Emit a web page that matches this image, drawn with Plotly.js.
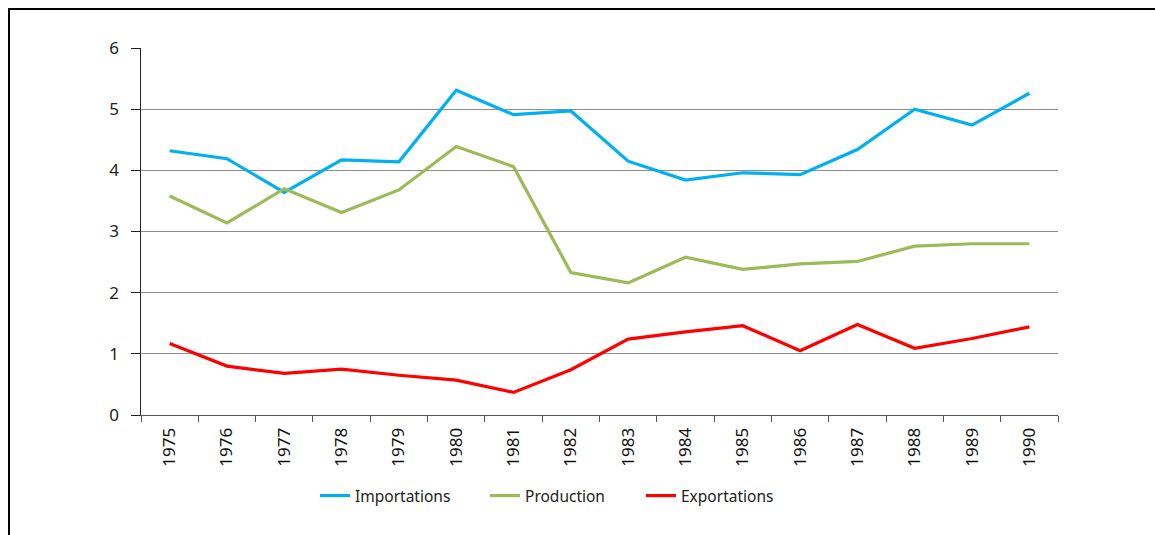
<!DOCTYPE html>
<html>
<head>
<meta charset="utf-8">
<script src="https://cdn.plot.ly/plotly-3.0.1.min.js"></script>
<style>
html,body{margin:0;padding:0;background:#fff;overflow:hidden;}
#chart{position:absolute;left:0;top:0;width:1155px;height:535px;}
#frame{position:absolute;left:8px;top:8px;width:1300px;height:700px;border-left:2px solid #000;border-top:2px solid #000;pointer-events:none;}
</style>
</head>
<body>
<div id="chart"></div>
<div id="frame"></div>
<script>
const years = ['1975','1976','1977','1978','1979','1980','1981','1982','1983','1984','1985','1986','1987','1988','1989','1990'];
const importations = [4.32,4.19,3.64,4.17,4.14,5.31,4.91,4.97,4.15,3.84,3.96,3.93,4.34,5.00,4.74,5.26];
const production   = [3.58,3.14,3.70,3.31,3.68,4.39,4.06,2.33,2.16,2.58,2.38,2.47,2.51,2.76,2.80,2.80];
const exportations = [1.17,0.80,0.68,0.75,0.65,0.57,0.37,0.74,1.24,1.36,1.46,1.05,1.48,1.09,1.25,1.44];

const mk = (name, y, color, leg) => ({
  type:'scatter', mode:'lines', name:name, x:years, y:y,
  line:{color:color, width:3.2}, legend:leg
});

const data = [
  mk('Importations', importations, '#00B0F0', 'legend'),
  mk('Production', production, '#9BBB59', 'legend2'),
  mk('Exportations', exportations, '#FF0000', 'legend3')
];

const legY = 1 - 496/535;
const legBase = {orientation:'h', xref:'container', yref:'container', xanchor:'left', yanchor:'middle',
                 y:legY, font:{size:15.5, color:'#222'}, bgcolor:'rgba(0,0,0,0)'};

const layout = {
  width:1155, height:535,
  margin:{l:141, r:97, t:48, b:120, autoexpand:false},
  paper_bgcolor:'#fff', plot_bgcolor:'#fff',
  font:{family:'"Noto Sans", "DejaVu Sans", sans-serif', color:'#222', size:16},
  showlegend:true,
  legend:Object.assign({}, legBase, {x:315/1155}),
  legend2:Object.assign({}, legBase, {x:485/1155}),
  legend3:Object.assign({}, legBase, {x:641/1155}),
  xaxis:{
    type:'category', showgrid:false, zeroline:false, automargin:false,
    showline:true, linecolor:'#555', linewidth:1,
    ticks:'outside', tickson:'boundaries', ticklen:6, tickcolor:'#555',
    tickangle:-90, tickfont:{size:17, color:'#111'}, ticklabelstandoff:5,
    range:[-0.5, 15.5]
  },
  yaxis:{
    range:[0,6], dtick:1, showgrid:true, gridcolor:'#8c8c8c', gridwidth:1,
    zeroline:false, showline:true, linecolor:'#222', linewidth:1.5, automargin:false,
    ticks:'outside', ticklen:9, tickcolor:'#222', ticklabelstandoff:8,
    tickfont:{size:17, color:'#222'}
  }
};

Plotly.newPlot('chart', data, layout, {displayModeBar:false, staticPlot:true});
</script>
</body>
</html>
